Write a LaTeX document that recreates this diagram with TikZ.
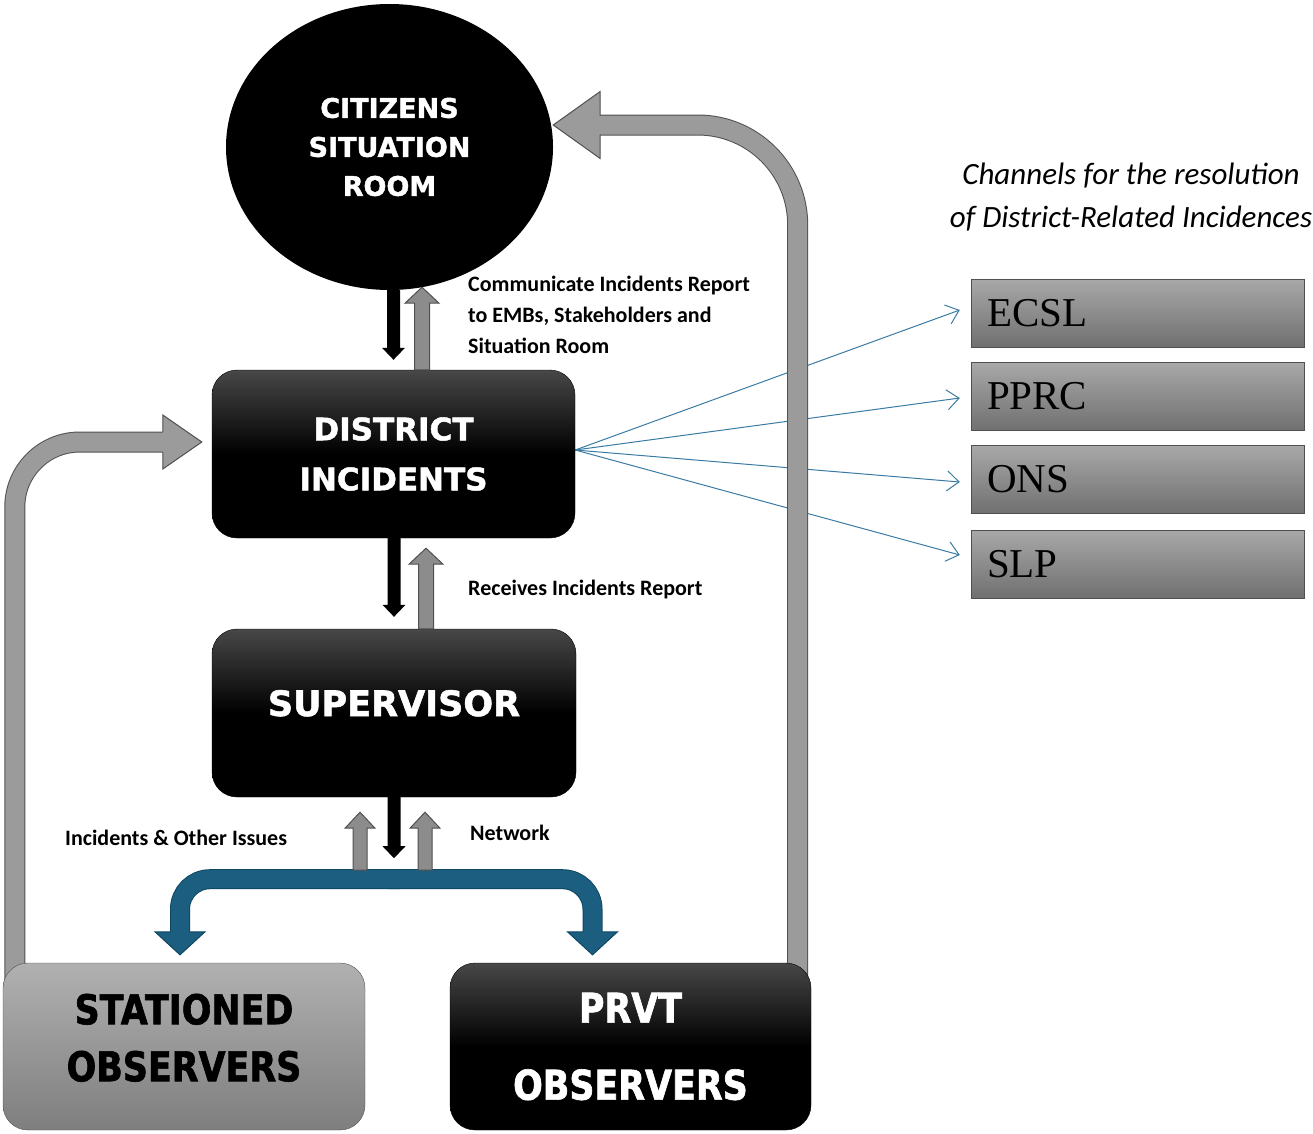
\documentclass[tikz,border=0pt]{standalone}
\usepackage{fontspec}
\usepackage{tikz}
\usetikzlibrary{shapes.geometric, arrows.meta, positioning, calc}
\newfontfamily\headfont[BoldFeatures={FakeBold=1.5}]{DejaVu Sans}
\newfontfamily\condfont[FakeStretch=0.85, BoldFeatures={FakeBold=1.5}]{DejaVu Sans}
\newfontfamily\labelfont{Carlito}
\newfontfamily\chanfont{Liberation Serif}
\definecolor{Arrow_Gray}{HTML}{9B9B9B}
\definecolor{Small_Gray}{HTML}{8C8C8C}
\definecolor{Edge_Gray}{HTML}{505050}
\definecolor{Box_Top}{HTML}{A8A8A8}
\definecolor{Box_Bottom}{HTML}{707070}
\definecolor{Net_Blue}{HTML}{1B5E80}
\definecolor{Net_Edge}{HTML}{0E4763}
\definecolor{Line_Blue}{HTML}{3A7BA3}
\pgfdeclarelayer{background}
\pgfsetlayers{background,main}

% vertical block arrow: style, tail, tip, half shaft, half head, head length
\newcommand{\vblock}[6]{%
  \filldraw[#1] let \p1=(#2), \p2=(#3) in
    (\x2-#4pt,\y1) -- (\x2-#4pt,\y2#6pt) -- (\x2-#5pt,\y2#6pt) -- (\x2,\y2)
    -- (\x2+#5pt,\y2#6pt) -- (\x2+#4pt,\y2#6pt) -- (\x2+#4pt,\y1) -- cycle;}

\tikzset{
  darkbox/.style={rectangle, rounded corners=25pt, draw=black, top color=black!72,
    bottom color=black, middle color=black, text=white, align=center, inner sep=0pt},
  lightbox/.style={rectangle, rounded corners=25pt, draw=Edge_Gray, top color=Box_Top!90!white,
    bottom color=Box_Bottom!90!white, text=black, align=center, inner sep=0pt},
  chanbox/.style={rectangle, draw=Edge_Gray, top color=Box_Top, bottom color=Box_Bottom,
    minimum width=333pt, minimum height=68pt, inner xsep=16pt, text width=301pt, align=left,
    font=\chanfont\fontsize{41}{41}\selectfont},
  smalllabel/.style={inner sep=0pt, font=\labelfont\bfseries\fontsize{22}{31}\selectfont},
  chanline/.style={draw=Line_Blue, line width=1pt, -{Straight Barb[length=12pt, width=20pt]}},
  blackarr/.style={fill=black, draw=none},
  grayarr/.style={fill=Small_Gray, draw=Edge_Gray, line width=1pt},
  bigshaft/.style={draw=Edge_Gray, double=Arrow_Gray, double distance=19pt, line width=1pt},
  bighead/.style={fill=Arrow_Gray, draw=Edge_Gray, line width=1pt, line join=miter},
  netshaft/.style={draw=Net_Edge, double=Net_Blue, double distance=18pt, line width=1pt},
  nethead/.style={fill=Net_Blue, draw=Net_Edge, line width=1pt}
}

\begin{document}
\begin{tikzpicture}[x=1pt, y=-1pt]
    \useasboundingbox (0,0) rectangle (1313,1133);

    % Situation room
    \node[ellipse, fill=black, minimum width=327pt, minimum height=286pt, inner sep=0pt,
          text=white, align=center, font=\headfont\bfseries\fontsize{27}{39}\selectfont]
          (room) at (389.5,147) {CITIZENS\\SITUATION\\ROOM};

    % Main boxes
    \node[darkbox, minimum width=363pt, minimum height=168pt,
          font=\headfont\bfseries\fontsize{31}{50}\selectfont]
          (dist) at (393.5,454) {DISTRICT\\INCIDENTS};
    \node[darkbox, minimum width=364pt, minimum height=168pt, text depth=20pt,
          font=\headfont\bfseries\fontsize{35}{40}\selectfont]
          (sup) at (394,713) {SUPERVISOR};

    % Observers
    \node[lightbox, minimum width=362pt, minimum height=167pt, text depth=18pt,
          font=\condfont\bfseries\fontsize{41}{57}\selectfont]
          (stat) at (184,1046.5) {STATIONED\\OBSERVERS};
    \node[darkbox, minimum width=361pt, minimum height=167pt,
          font=\condfont\bfseries\fontsize{41}{77}\selectfont]
          (prvt) at (630.5,1046.5) {PRVT\\OBSERVERS};

    % Channels
    \node[font=\labelfont\itshape\fontsize{31}{43}\selectfont, align=center]
          (chan) at (1131,197) {Channels for the resolution\\of District-Related Incidences};
    \foreach \name/\txt/\y in {ecsl/ECSL/313, pprc/PPRC/396.5, ons/ONS/479.5, slp/SLP/564}
        \node[chanbox] (\name) at (1137.5,\y) {\txt};

    % Labels
    \node[smalllabel, anchor=north west, align=left] (comm) at (468,276)
          {Communicate Incidents Report\\to EMBs, Stakeholders and\\Situation Room};
    \node[smalllabel, anchor=west] (recv) at (468,589) {Receives Incidents Report};
    \node[smalllabel, anchor=west] (netw) at (470,833) {Network};
    \node[smalllabel, anchor=west] (issues) at (65,838) {Incidents \& Other Issues};

    \coordinate (hub) at ([yshift=4pt]dist.east);
    \coordinate (net) at ([yshift=-82pt]sup.south);

    \begin{pgfonlayer}{background}
        % Lines to the channels
        \foreach \name/\dy in {ecsl/3, pprc/-1.5, ons/-2.5, slp/9}
            \draw[chanline] (hub) -- ([xshift=-11pt, yshift=\dy pt]\name.west);

        % Stationed observers back to district
        \coordinate (ls) at ([xshift=12pt, yshift=-20pt]stat.north west);
        \coordinate (lt) at ([xshift=-10pt, yshift=12pt]dist.west);
        \coordinate (lb) at ([xshift=-39pt]lt);
        \draw[bigshaft, rounded corners=65pt] (ls) |- (lb);
        \filldraw[bighead] ([yshift=10pt]lb) -- ([yshift=27pt]lb) -- (lt)
            -- ([yshift=-27pt]lb) -- ([yshift=-10pt]lb);

        % PRVT observers back to situation room
        \coordinate (rs) at ([xshift=-13.5pt, yshift=-20pt]prvt.north east);
        \coordinate (rt) at ([yshift=22pt]room.east);
        \coordinate (rb) at ([xshift=47pt]rt);
        \draw[bigshaft, rounded corners=100pt] (rs) |- (rb);
        \filldraw[bighead] ([yshift=9.5pt]rb) -- ([yshift=33.5pt]rb) -- (rt)
            -- ([yshift=-33.5pt]rb) -- ([yshift=-9.5pt]rb);
    \end{pgfonlayer}

    % Network split
    \coordinate (nl) at ([xshift=-4pt, yshift=8pt]stat.north);
    \coordinate (nr) at ([xshift=-38pt, yshift=8pt]prvt.north);
    \draw[netshaft, rounded corners=30pt] ([xshift=6pt]net) -| ([yshift=23pt]nl);
    \draw[netshaft, rounded corners=30pt] ([xshift=-6pt]net) -| ([yshift=23pt]nr);
    \filldraw[nethead] ([xshift=-9.5pt, yshift=23pt]nl) -- ([xshift=-25pt, yshift=23pt]nl) -- (nl)
        -- ([xshift=25pt, yshift=23pt]nl) -- ([xshift=9.5pt, yshift=23pt]nl);
    \filldraw[nethead] ([xshift=-9.5pt, yshift=23pt]nr) -- ([xshift=-25pt, yshift=23pt]nr) -- (nr)
        -- ([xshift=25pt, yshift=23pt]nr) -- ([xshift=9.5pt, yshift=23pt]nr);

    % Report arrows
    \vblock{blackarr}{room.south -| dist.north}{[yshift=10pt]dist.north}{6.5}{11.5}{+12}
    \vblock{grayarr}{[xshift=32.5pt]dist.north}{[xshift=32.5pt, yshift=3pt]room.south}{7.5}{17}{-16}
    \vblock{blackarr}{dist.south}{[yshift=12pt]sup.north}{6.5}{11.5}{+12}
    \vblock{grayarr}{[xshift=32.5pt]sup.north}{[xshift=32.5pt, yshift=-10pt]dist.south}{7.5}{17}{-16}
    \vblock{blackarr}{sup.south}{[yshift=21pt]net}{6.5}{11.5}{+12}
    \vblock{grayarr}{[xshift=-34pt, yshift=9pt]net}{[xshift=-34pt, yshift=-15pt]sup.south}{7}{15}{-16}
    \vblock{grayarr}{[xshift=31pt, yshift=9pt]net}{[xshift=31pt, yshift=-15pt]sup.south}{7}{15}{-16}
\end{tikzpicture}
\end{document}
